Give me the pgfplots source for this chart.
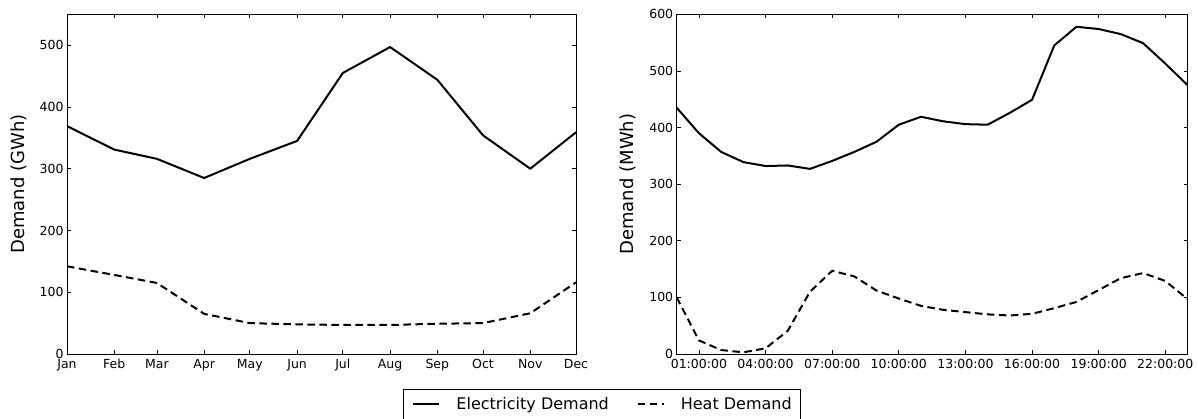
\documentclass[border=0pt]{standalone}
\usepackage{fontspec}
\setmainfont{DejaVu Sans}
\usepackage{pgfplots}
\pgfplotsset{compat=1.18}
\begin{document}
\begin{tikzpicture}
\useasboundingbox (0pt,0pt) rectangle (1198pt,-418pt);
\pgfplotsset{
  every axis/.append style={
    scale only axis,
    axis line style={line width=1pt},
    tick align=inside,
    xtick pos=both, ytick pos=both,
    major tick length=4pt,
    every tick/.style={black,line width=0.8pt},
    tick label style={font=\fontsize{12.5}{13}\selectfont},
    xticklabel style={yshift=-1.5pt},
    /pgf/number format/assume math mode=true,
    label style={font=\fontsize{18}{19}\selectfont},
    ymin=0,
  },
  elec/.style={black, line width=2pt, line join=round},
  heat/.style={black, line width=2pt, dash pattern=on 7.5pt off 4.5pt},
}
\begin{axis}[
  at={(67pt,-354pt)}, anchor=south west,
  width=509pt, height=339.7pt,
  xmin=0, xmax=334, ymax=550,
  xtick={0,31,59,90,120,151,181,212,243,273,304,334},
  xticklabels={Jan,Feb,Mar,Apr,May,Jun,Jul,Aug,Sep,Oct,Nov,Dec},
  ytick={0,100,200,300,400,500},
  ylabel={Demand (GWh)},
  ylabel style={at={(axis description cs:-0.0953,0.5)},anchor=center},
  legend columns=2,
  legend style={at={(rel axis cs:0.660,-0.103)}, anchor=north west,
    draw=black, line width=1pt, inner xsep=9pt, inner ysep=6pt,
    font=\fontsize{16}{17}\selectfont,
    nodes={inner xsep=0pt},
    /tikz/every odd column/.append style={column sep=16pt},
    /tikz/every even column/.append style={column sep=28pt}},
  legend image code/.code={\draw[#1] (0pt,0pt) -- (26pt,0pt);},
]
\addplot[elec] coordinates {(0,369) (31,331) (59,316) (90,285) (120,316) (151,345) (181,455) (212,497) (243,444) (273,354) (304,300) (334,359)};
\addlegendentry{Electricity Demand}
\addplot[heat] coordinates {(0,142) (31,128) (59,115) (90,65) (120,50) (151,48) (181,47) (212,47) (243,49) (273,50) (304,66) (334,116)};
\addlegendentry{Heat Demand}
\end{axis}
\begin{axis}[
  at={(676.7pt,-354pt)}, anchor=south west,
  width=510.8pt, height=339.7pt,
  xmin=0, xmax=23, ymax=600,
  xtick={1,4,7,10,13,16,19,22},
  xticklabels={01:00:00,04:00:00,07:00:00,10:00:00,13:00:00,16:00:00,19:00:00,22:00:00},
  ytick={0,100,200,300,400,500,600},
  ylabel={Demand (MWh)},
  ylabel style={at={(axis description cs:-0.0963,0.5)},anchor=center},
]
\addplot[elec] coordinates {(0,435) (1,390) (2,357) (3,339) (4,332) (5,333) (6,327) (7,341) (8,357) (9,375) (10,405) (11,419) (12,411) (13,406) (14,405) (15,426) (16,449) (17,545) (18,578) (19,574) (20,565) (21,549) (22,513) (23,475)};
\addplot[heat] coordinates {(0,100) (1,24) (2,7) (3,3) (4,10) (5,41) (6,110) (7,147) (8,137) (9,112) (10,98) (11,85) (12,78) (13,74) (14,70) (15,68) (16,71) (17,81) (18,92) (19,113) (20,134) (21,143) (22,129) (23,97)};
\end{axis}
\end{tikzpicture}
\end{document}
